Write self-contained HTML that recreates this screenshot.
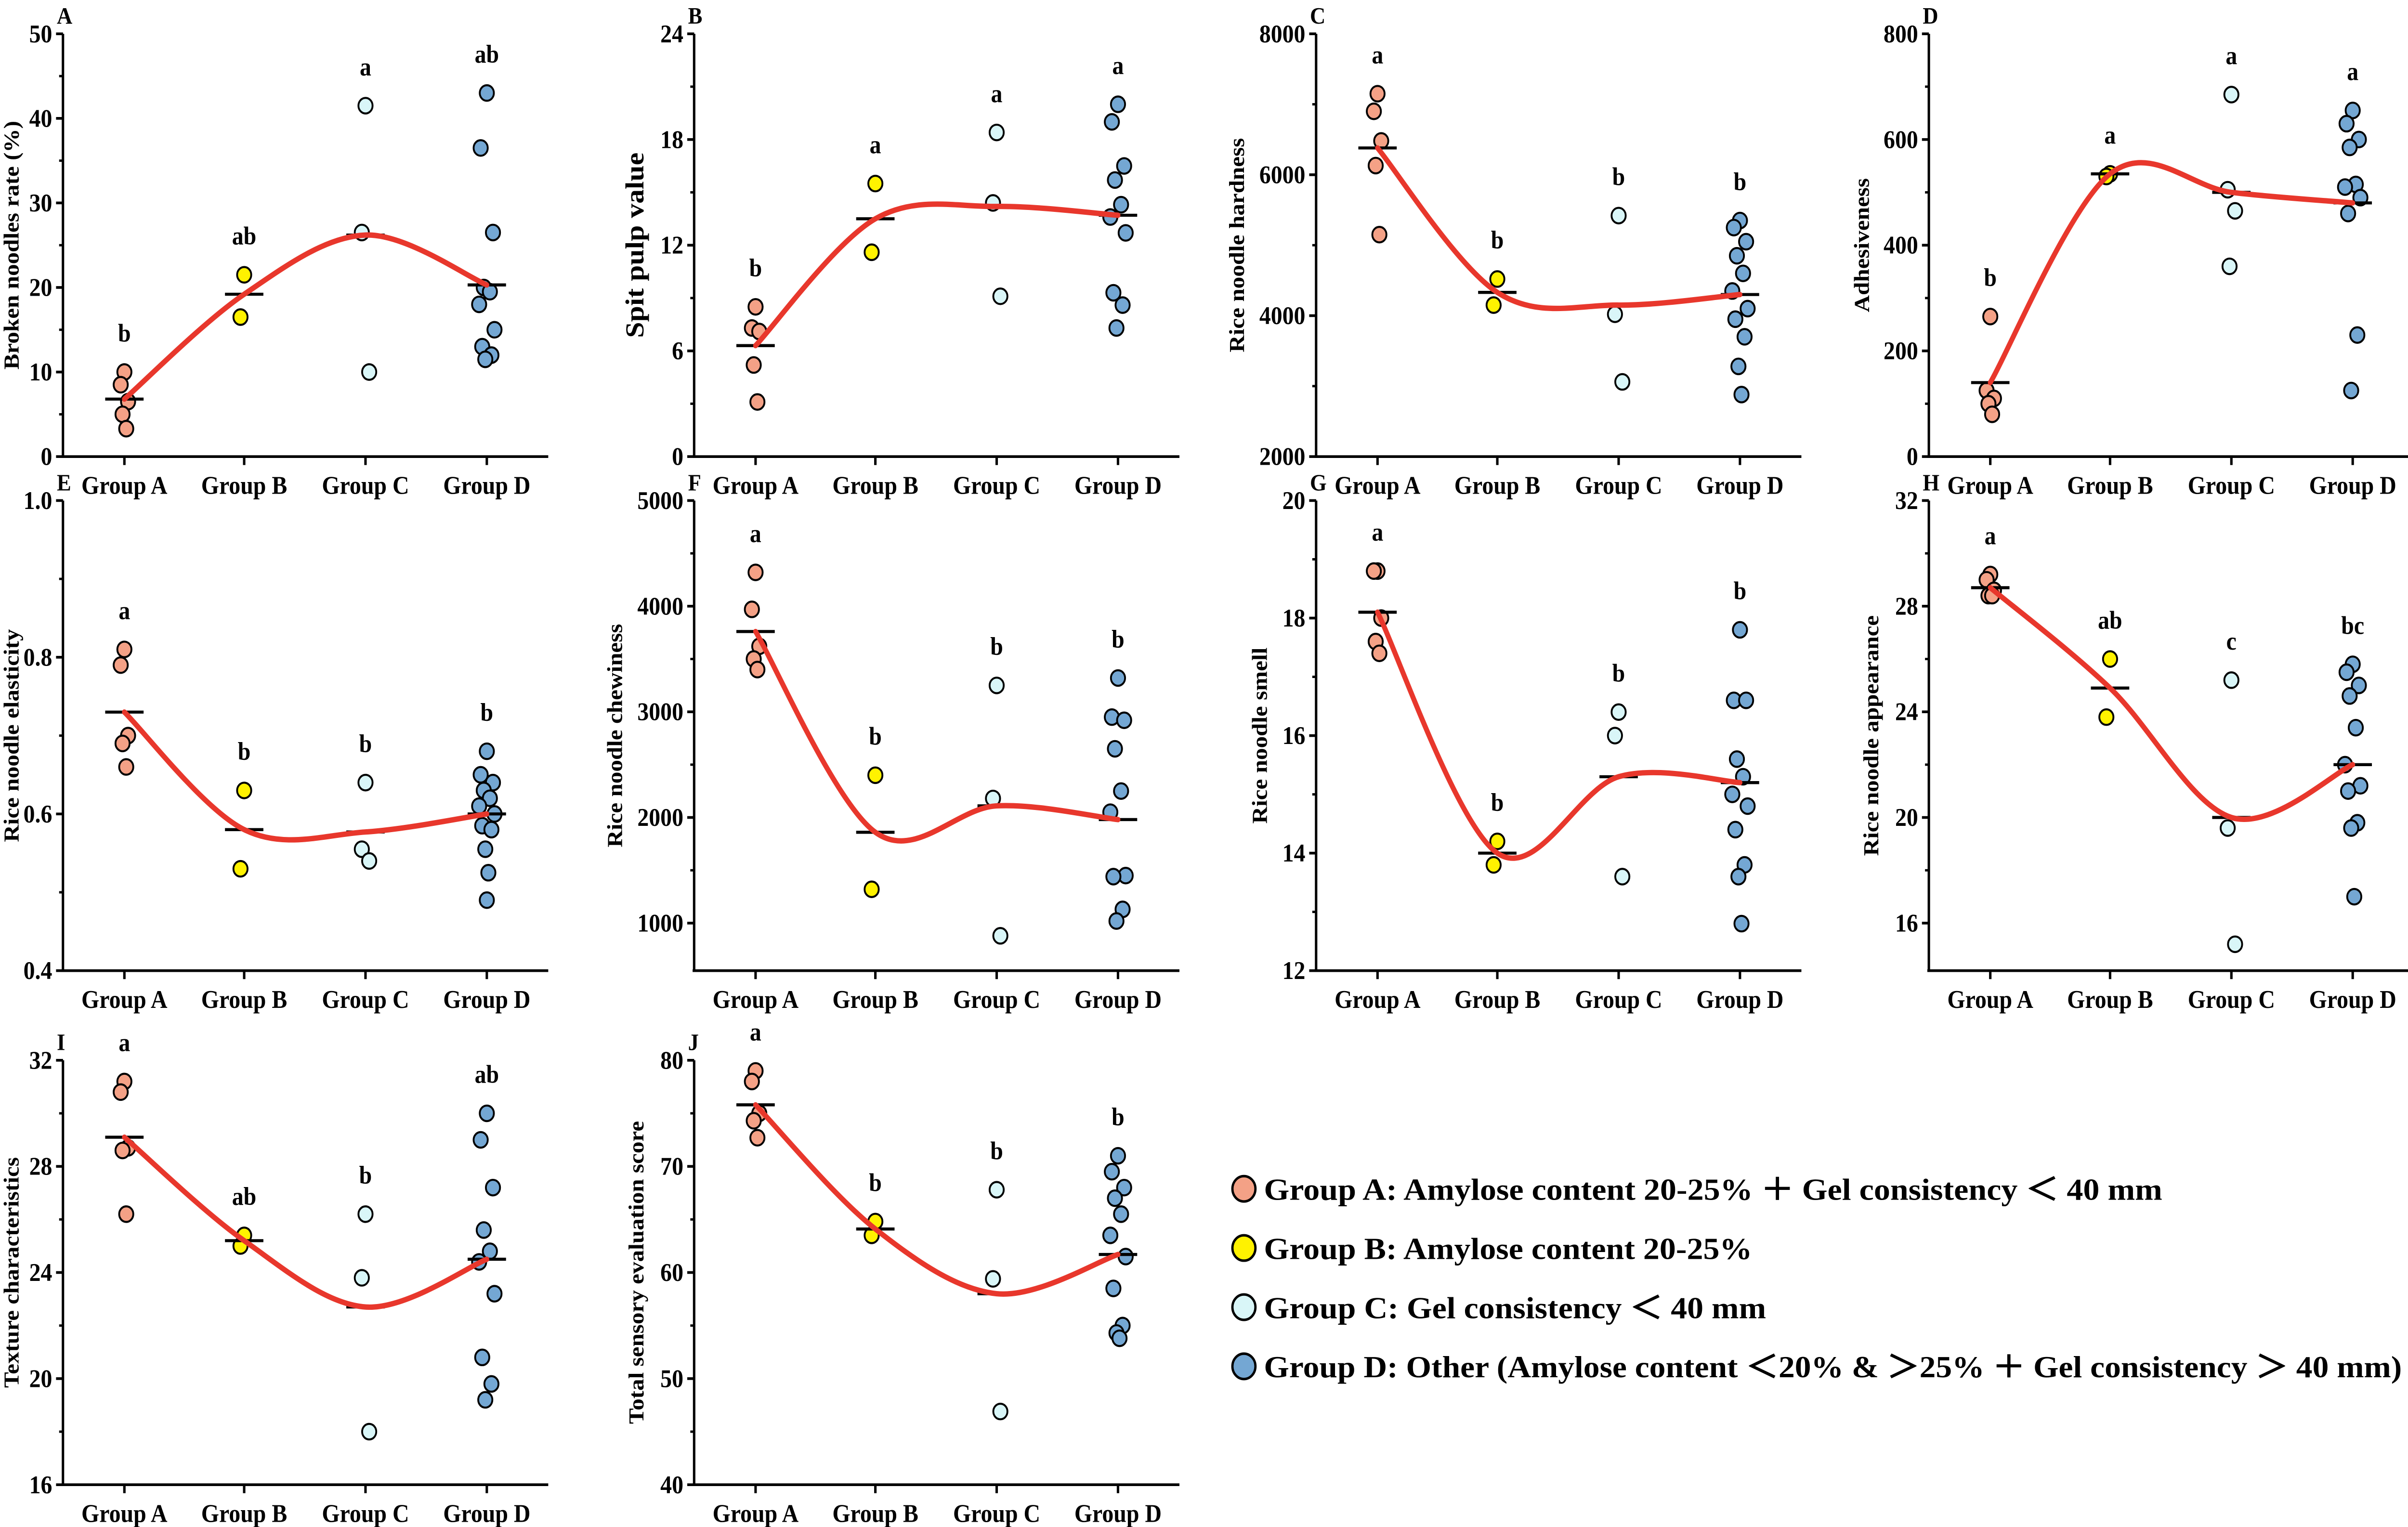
<!DOCTYPE html>
<html><head><meta charset="utf-8"><style>
html,body{margin:0;padding:0;background:#fff;overflow:hidden;width:100%;height:100%;}
svg{display:block;position:absolute;left:0;top:0;width:100vw;height:100vh;font-family:"Liberation Serif",serif;font-weight:bold;}
</style></head><body>
<svg id="chart" viewBox="0 0 1568 903" preserveAspectRatio="none" xmlns="http://www.w3.org/2000/svg">
<g id="panels"></g>
<g>
  <g><circle cx="810" cy="703" r="7.5" fill="#f4a186" stroke="#000" stroke-width="1.5"/><text x="823" y="709.5" font-size="18" textLength="585" lengthAdjust="spacingAndGlyphs">Group A: Amylose content 20-25% ＋ Gel consistency ＜ 40 mm</text></g>
  <g><circle cx="810" cy="738" r="7.5" fill="#fff200" stroke="#000" stroke-width="1.5"/><text x="823" y="744.5" font-size="18" textLength="318" lengthAdjust="spacingAndGlyphs">Group B: Amylose content 20-25%</text></g>
  <g><circle cx="810" cy="773" r="7.5" fill="#d9f6f8" stroke="#000" stroke-width="1.5"/><text x="823" y="779.5" font-size="18" textLength="327" lengthAdjust="spacingAndGlyphs">Group C: Gel consistency ＜ 40 mm</text></g>
  <g><circle cx="810" cy="808" r="7.5" fill="#74a7d3" stroke="#000" stroke-width="1.5"/><text x="823" y="814.5" font-size="18" textLength="741" lengthAdjust="spacingAndGlyphs">Group D: Other (Amylose content ＜20% &amp; ＞25% ＋ Gel consistency ＞ 40 mm)</text></g>
</g>
</svg>
<script>
const groups = ["Group A","Group B","Group C","Group D"];
const A_vals = [[10,8.5,6.5,5,3.3],[21.5,16.5],[41.5,26.5,10],[43,36.5,26.5,20,19.5,18,15,13,12,11.5]];
const A_means = [6.8,19.2,26.2,20.3];
const A_letters = ["b","ab","a","ab"];
const A_ticks = [0,10,20,30,40,50];
const B_vals = [[8.5,7.3,7.1,5.2,3.1],[15.5,11.6],[18.4,14.4,9.1],[20,19,16.5,15.7,14.3,13.6,12.7,9.3,8.6,7.3]];
const B_means = [6.3,13.5,14.2,13.7];
const B_letters = ["b","a","a","a"];
const B_ticks = [0,6,12,18,24];
const C_vals = [[7150,6900,6480,6130,5150],[4520,4150],[5420,4020,3060],[5350,5250,5050,4850,4600,4350,4100,3950,3700,3280,2880]];
const C_means = [6380,4330,4150,4300];
const C_letters = ["a","b","b","b"];
const C_ticks = [2000,4000,6000,8000];
const D_vals = [[265,125,110,100,80],[535,530],[685,505,465,360],[655,630,600,585,515,510,490,460,230,125]];
const D_means = [140,535,500,480];
const D_letters = ["b","a","a","a"];
const D_ticks = [0,200,400,600,800];
const E_vals = [[0.81,0.79,0.70,0.69,0.66],[0.63,0.53],[0.64,0.555,0.54],[0.68,0.65,0.64,0.63,0.62,0.61,0.60,0.585,0.58,0.555,0.525,0.49]];
const E_means = [0.73,0.58,0.577,0.60];
const E_letters = ["a","b","b","b"];
const E_ticks = [0.4,0.6,0.8,1.0];
const F_vals = [[4320,3970,3620,3500,3400],[2400,1320],[3250,2180,880],[3320,2950,2920,2650,2250,2050,1450,1440,1130,1020]];
const F_means = [3760,1860,2110,1980];
const F_letters = ["a","b","b","b"];
const F_ticks = [1000,2000,3000,4000,5000];
const G_vals = [[18.8,18.8,18,17.6,17.4],[14.2,13.8],[16.4,16,13.6],[17.8,16.6,16.6,15.6,15.3,15.0,14.8,14.4,13.8,13.6,12.8]];
const G_means = [18.1,14.0,15.3,15.2];
const G_letters = ["a","b","b","b"];
const G_ticks = [12,14,16,18,20];
const H_vals = [[29.2,29,28.6,28.4,28.4],[26,23.8],[25.2,19.6,15.2],[25.8,25.5,25,24.6,23.4,22,21.2,21,19.8,19.6,17]];
const H_means = [28.7,24.9,20,22];
const H_letters = ["a","ab","c","bc"];
const H_ticks = [16,20,24,28,32];
const I_vals = [[31.2,30.8,28.7,28.6,26.2],[25.4,25.0],[26.2,23.8,18],[30,29,27.2,25.6,24.8,24.4,23.2,20.8,19.8,19.2]];
const I_means = [29.1,25.2,22.7,24.5];
const I_letters = ["a","ab","b","ab"];
const I_ticks = [16,20,24,28,32];
const J_vals = [[79,78,75,74.3,72.7],[64.8,63.5],[67.8,59.4,46.9],[71,69.5,68,67,65.5,63.5,61.5,58.5,55,54.3,53.8]];
const J_means = [75.8,64.1,58,61.7];
const J_letters = ["a","b","b","b"];
const J_ticks = [40,50,60,70,80];

const colors = ["#f4a186","#fff200","#d9f6f8","#74a7d3"];
const NS = "http://www.w3.org/2000/svg";
const root = document.getElementById("panels");
function mk(tag, attrs, parent){const e=document.createElementNS(NS,tag);for(const k in attrs)e.setAttribute(k,attrs[k]);parent.appendChild(e);return e;}

const cols=[41,452,857,1256];
const panels = [
 {id:"A",ax:cols[0],top:20,bot:270,min:0,max:50,minor:5,vals:A_vals,means:A_means,letters:A_letters,ticks:A_ticks,title:"Broken noodles rate (%)",fs:14,to:29},
 {id:"B",ax:cols[1],top:20,bot:270,min:0,max:24,minor:3,vals:B_vals,means:B_means,letters:B_letters,ticks:B_ticks,title:"Spit pulp value",fs:17,to:33},
 {id:"C",ax:cols[2],top:20,bot:270,min:2000,max:8000,minor:1000,vals:C_vals,means:C_means,letters:C_letters,ticks:C_ticks,title:"Rice noodle hardness",fs:14,to:47},
 {id:"D",ax:cols[3],top:20,bot:270,min:0,max:800,minor:100,vals:D_vals,means:D_means,letters:D_letters,ticks:D_ticks,title:"Adhesiveness",fs:14,to:39},
 {id:"E",ax:cols[0],top:296,bot:574,min:0.4,max:1.0,minor:0.1,vals:E_vals,means:E_means,letters:E_letters,ticks:E_ticks,title:"Rice noodle elasticity",fs:14,dec:1,to:29},
 {id:"F",ax:cols[1],top:296,bot:574,min:550,max:5000,minor:500,vals:F_vals,means:F_means,letters:F_letters,ticks:F_ticks,title:"Rice noodle chewiness",fs:14,to:47},
 {id:"G",ax:cols[2],top:296,bot:574,min:12,max:20,minor:1,vals:G_vals,means:G_means,letters:G_letters,ticks:G_ticks,title:"Rice noodle smell",fs:14,to:32},
 {id:"H",ax:cols[3],top:296,bot:574,min:14.2,max:32,minor:2,vals:H_vals,means:H_means,letters:H_letters,ticks:H_ticks,title:"Rice noodle appearance",fs:14,to:33},
 {id:"I",ax:cols[0],top:627,bot:878,min:16,max:32,minor:2,vals:I_vals,means:I_means,letters:I_letters,ticks:I_ticks,title:"Texture characteristics",fs:14,to:29},
 {id:"J",ax:cols[1],top:627,bot:878,min:40,max:80,minor:5,vals:J_vals,means:J_means,letters:J_letters,ticks:J_ticks,title:"Total sensory evaluation score",fs:14,to:33}
];
const gOff=[40,118,197,276];
const jit=[0,-4,4,-2,2,-5,5,-3,3,-1,1,0];

panels.forEach(p=>{
  const g=mk("g",{},root);
  
  
  const y=v=>p.bot-(v-p.min)/(p.max-p.min)*(p.bot-p.top);
  const x=i=>p.ax+gOff[i];
  const lab=mk("text",{x:p.ax-4,y:p.top-6,"font-size":14,"text-anchor":"start"},g);lab.textContent=p.id;
  
  
  const yax=mk("line",{x1:p.ax,y1:p.top,x2:p.ax,y2:p.bot,stroke:"#000","stroke-width":1.6},g);
  
  
  const xax=mk("line",{x1:p.ax-1,y1:p.bot,x2:p.ax+316,y2:p.bot,stroke:"#000","stroke-width":1.6},g);
  
  
  for(let v=Math.ceil(p.min/p.minor)*p.minor; v<=p.max+1e-9; v+=p.minor){
    mk("line",{x1:p.ax-2.5,y1:y(v),x2:p.ax,y2:y(v),stroke:"#000","stroke-width":1.4},g);
  }
  p.ticks.forEach(t=>{
    mk("line",{x1:p.ax-4.5,y1:y(t),x2:p.ax,y2:y(t),stroke:"#000","stroke-width":1.6},g);
    const tl=mk("text",{x:p.ax-7,y:y(t)+5,"font-size":15,"text-anchor":"end"},g);
    tl.textContent=p.dec?t.toFixed(1):t;
    
    
  });
  const cy=(p.top+p.bot)/2;
  const tx=p.ax-p.to;
  const tt=mk("text",{x:tx,y:cy,"font-size":p.fs,"text-anchor":"middle",transform:`rotate(-90 ${tx} ${cy})`},g);
  tt.textContent=p.title;
  
  
  groups.forEach((gn,i)=>{
    mk("line",{x1:x(i),y1:p.bot,x2:x(i),y2:p.bot+5,stroke:"#000","stroke-width":1.6},g);
    const xl=mk("text",{x:x(i),y:p.bot+22,"font-size":15,"text-anchor":"middle"},g);
    xl.textContent=gn;
    
    
  });
  const pts=p.means.map((m,i)=>[x(i),y(m)]);
  let d=`M${pts[0][0]},${pts[0][1]}`;
  for(let i=0;i<pts.length-1;i++){
    const p0=pts[Math.max(0,i-1)],p1=pts[i],p2=pts[i+1],p3=pts[Math.min(pts.length-1,i+2)];
    const c1=[p1[0]+(p2[0]-p0[0])/6,p1[1]+(p2[1]-p0[1])/6];
    const c2=[p2[0]-(p3[0]-p1[0])/6,p2[1]-(p3[1]-p1[1])/6];
    d+=` C${c1[0]},${c1[1]} ${c2[0]},${c2[1]} ${p2[0]},${p2[1]}`;
  }
  p.vals.forEach((arr,i)=>{
    arr.forEach((v,k)=>{
      const c=mk("circle",{cx:x(i)+jit[k%jit.length]*(i===3?1:0.6),cy:y(v),r:4.6,fill:colors[i],stroke:"#000","stroke-width":1.2},g);
      
      
    });
  });
  p.means.forEach((m,i)=>{
    const ml=mk("line",{x1:x(i)-12.5,y1:y(m),x2:x(i)+12.5,y2:y(m),stroke:"#000","stroke-width":1.8},g);
    
    
  });
  const cv=mk("path",{d:d,fill:"none",stroke:"#e8372c","stroke-width":3.2,"stroke-linecap":"round"},g);
  
  
  p.letters.forEach((L,i)=>{
    const mx=Math.max(...p.vals[i]);
    const lt=mk("text",{x:x(i),y:y(mx)-18,"font-size":15,"text-anchor":"middle"},g);
    lt.textContent=L;
    
    
  });
});
</script>
</body></html>
